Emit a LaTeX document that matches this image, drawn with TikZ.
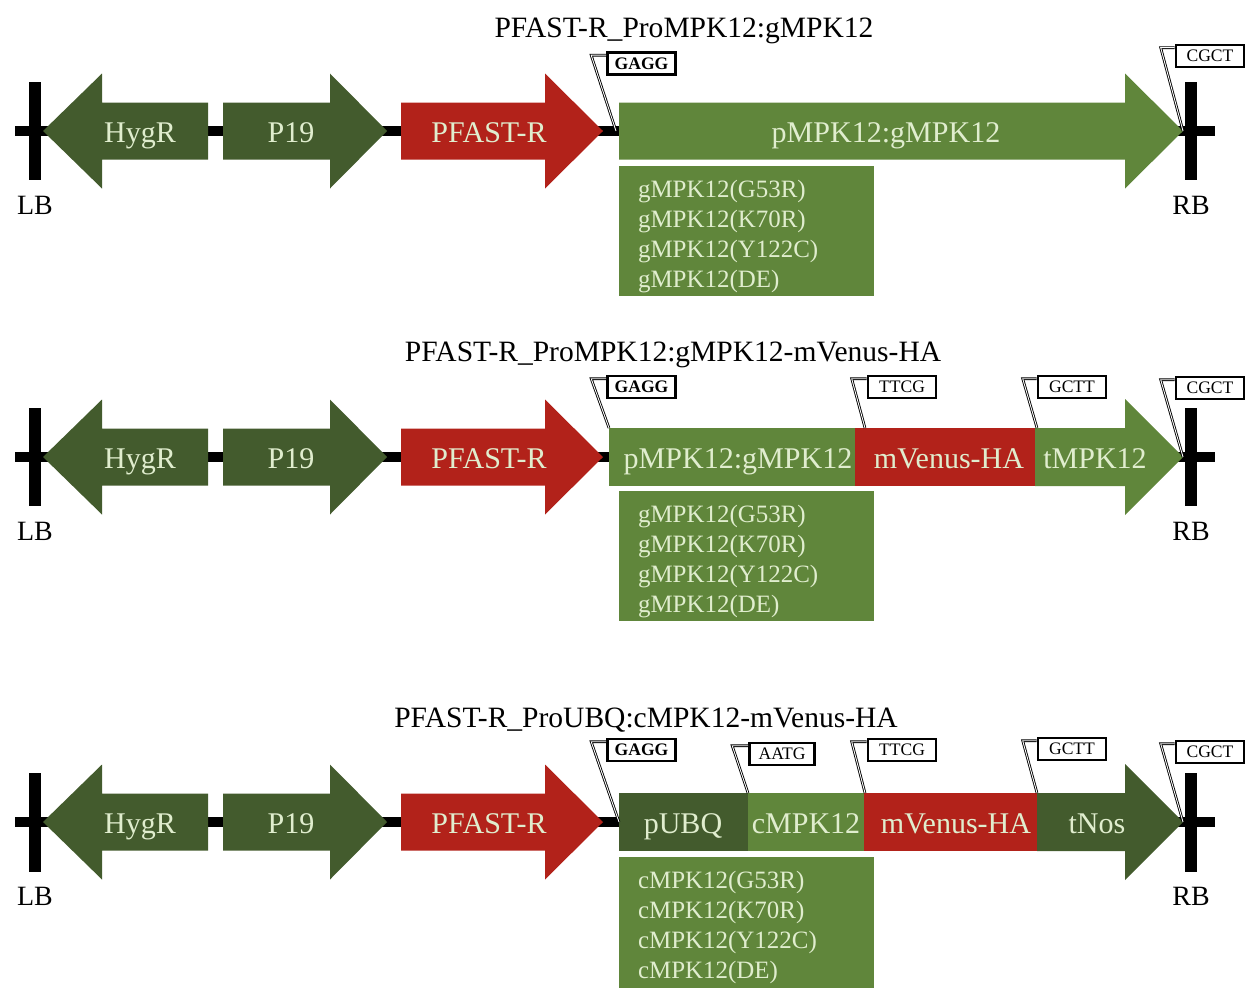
\documentclass[tikz,border=0pt]{standalone}
\usepackage{fontspec}
\setmainfont{Liberation Serif}
\usetikzlibrary{calc}

\definecolor{dkgreen}{RGB}{67,91,45}
\definecolor{ltgreen}{RGB}{96,134,59}
\definecolor{dnared}{RGB}{178,34,26}
\definecolor{paletxt}{RGB}{224,237,206}

\begin{document}
\begin{tikzpicture}[x=0.02cm, y=-0.02cm,
    blk/.style={text=paletxt, font=\fontsize{17.1}{20}\selectfont, inner sep=0pt, anchor=base},
    ttl/.style={font=\fontsize{16.8}{20}\selectfont, inner sep=0pt, anchor=base},
    site/.style={draw, line width=1.5pt, fill=white, minimum width=1.36cm, minimum height=0.44cm, inner sep=0pt, font=\fontsize{10}{11}\selectfont},
    tagline/.style={line width=0.5pt, double=white, double distance=0.5pt},
    mutbox/.style={fill=ltgreen, text=paletxt, minimum width=5.1cm, minimum height=2.62cm, text width=4.34cm, inner xsep=0.38cm, inner ysep=0pt, align=left, font=\fontsize{14.2}{17.1}\selectfont},
    bar/.style={fill=black, inner sep=0pt, minimum width=0.24cm, minimum height=1.98cm},
    bdr/.style={font=\fontsize{15.9}{18}\selectfont, inner sep=0pt, anchor=base}]

\useasboundingbox (0,0) rectangle (1257,987);

% parts shared by the three constructs
\foreach \r/\y in {1/131,2/457,3/822}{
  \begin{scope}[shift={(0,\y)}]
    \draw[line width=0.2cm] (15,0) -- (1215,0);
    \node[bar] (lbbar\r) at (35,0) {};
    \node[bar] (rbbar\r) at (1191,0) {};
    \node[bdr] (lb\r) at (35,83) {LB};
    \node[bdr] (rb\r) at (1191,83) {RB};
    \fill[dkgreen] (43,0) -- (102,-57.5) -- (102,-28.5) -- (208,-28.5) -- (208,28.5) -- (102,28.5) -- (102,57.5) -- cycle;
    \node[blk] (hygr\r) at (140,11) {HygR};
    \fill[dkgreen] (223,-28.5) -- (330,-28.5) -- (330,-57.5) -- (387,0) -- (330,57.5) -- (330,28.5) -- (223,28.5) -- cycle;
    \node[blk] (p19\r) at (291,11) {P19};
    \fill[dnared] (401,-28.5) -- (545,-28.5) -- (545,-57.5) -- (603,0) -- (545,57.5) -- (545,28.5) -- (401,28.5) -- cycle;
    \node[blk] (pfast\r) at (489,11) {PFAST-R};
    \coordinate (tip\r) at (1183,0);
  \end{scope}
}

% construct 1
\begin{scope}[shift={(0,131)}]
  \node[ttl] (title1) at (684,-94) {PFAST-R\_ProMPK12:gMPK12};
  \fill[ltgreen] (619,-28.5) -- (1125,-28.5) -- (1125,-57.5) -- (1183,0) -- (1125,57.5) -- (1125,28.5) -- (619,28.5) -- cycle;
  \node[blk] (gmpk1) at (886,11) {pMPK12:gMPK12};
  \node[mutbox] (mut1) at (746.5,100) {\rule{0pt}{16pt}gMPK12(G53R)\\gMPK12(K70R)\\gMPK12(Y122C)\\gMPK12(DE)};
  \node[site, font=\fontsize{10}{11}\selectfont\bfseries] (gagg1) at (641.5,-67.5) {GAGG};
  \node[site] (cgct1) at (1210,-75) {CGCT};
  \coordinate (j1) at (616,0);
  \draw[tagline] (j1) -- ($(gagg1.north west)+(-15,4)$) -- ($(gagg1.north west)+(0,4)$);
  \draw[tagline] (tip1) -- ($(cgct1.north west)+(-14,4)$) -- ($(cgct1.north west)+(0,4)$);
\end{scope}

% construct 2
\begin{scope}[shift={(0,457)}]
  \node[ttl] (title2) at (673,-96) {PFAST-R\_ProMPK12:gMPK12-mVenus-HA};
  \fill[ltgreen] (609,-29) rectangle (855,29);
  \fill[dnared] (855,-29) rectangle (1035,29);
  \fill[ltgreen] (1035,-29) -- (1125,-29) -- (1125,-58) -- (1183,0) -- (1125,58) -- (1125,29) -- (1035,29) -- cycle;
  \node[blk] (gmpk2) at (738,11) {pMPK12:gMPK12};
  \node[blk] (venus2) at (949,11) {mVenus-HA};
  \node[blk] (tmpk2) at (1095,11) {tMPK12};
  \node[mutbox] (mut2) at (746.5,99) {\rule{0pt}{16pt}gMPK12(G53R)\\gMPK12(K70R)\\gMPK12(Y122C)\\gMPK12(DE)};
  \node[site, font=\fontsize{10}{11}\selectfont\bfseries] (gagg2) at (641.5,-70) {GAGG};
  \node[site] (ttcg2) at (902,-70) {TTCG};
  \node[site] (gctt2) at (1072,-70) {GCTT};
  \node[site] (cgct2) at (1210,-69) {CGCT};
  \coordinate (j2a) at (609,-29);
  \coordinate (j2b) at (865,-29);
  \coordinate (j2c) at (1037,-29);
  \draw[tagline] (j2a) -- ($(gagg2.north west)+(-15,4)$) -- ($(gagg2.north west)+(0,4)$);
  \draw[tagline] (j2b) -- ($(ttcg2.north west)+(-15,4)$) -- ($(ttcg2.north west)+(0,4)$);
  \draw[tagline] (j2c) -- ($(gctt2.north west)+(-14,4)$) -- ($(gctt2.north west)+(0,4)$);
  \draw[tagline] (tip2) -- ($(cgct2.north west)+(-14,4)$) -- ($(cgct2.north west)+(0,4)$);
\end{scope}

% construct 3
\begin{scope}[shift={(0,822)}]
  \node[ttl] (title3) at (646,-95) {PFAST-R\_ProUBQ:cMPK12-mVenus-HA};
  \fill[dkgreen] (619,-29) rectangle (748,29);
  \fill[ltgreen] (748,-29) rectangle (864,29);
  \fill[dnared] (864,-29) rectangle (1037,29);
  \fill[dkgreen] (1037,-29) -- (1125,-29) -- (1125,-58) -- (1183,0) -- (1125,58) -- (1125,29) -- (1037,29) -- cycle;
  \node[blk] (pubq3) at (683,11) {pUBQ};
  \node[blk] (cmpk3) at (806,11) {cMPK12};
  \node[blk] (venus3) at (956,11) {mVenus-HA};
  \node[blk] (tnos3) at (1097,11) {tNos};
  \node[mutbox] (mut3) at (746.5,100) {\rule{0pt}{16pt}cMPK12(G53R)\\cMPK12(K70R)\\cMPK12(Y122C)\\cMPK12(DE)};
  \node[site, font=\fontsize{10}{11}\selectfont\bfseries] (gagg3) at (641.5,-72) {GAGG};
  \node[site, minimum width=1.3cm] (aatg3) at (782,-68) {AATG};
  \node[site] (ttcg3) at (902,-72) {TTCG};
  \node[site] (gctt3) at (1072,-73) {GCTT};
  \node[site] (cgct3) at (1210,-70) {CGCT};
  \coordinate (j3a) at (619,0);
  \coordinate (j3b) at (748,-29);
  \coordinate (j3c) at (865,-29);
  \coordinate (j3d) at (1037,-29);
  \draw[tagline] (j3a) -- ($(gagg3.north west)+(-15,4)$) -- ($(gagg3.north west)+(0,4)$);
  \draw[tagline] (j3b) -- ($(aatg3.north west)+(-16,4)$) -- ($(aatg3.north west)+(0,4)$);
  \draw[tagline] (j3c) -- ($(ttcg3.north west)+(-15,4)$) -- ($(ttcg3.north west)+(0,4)$);
  \draw[tagline] (j3d) -- ($(gctt3.north west)+(-14,4)$) -- ($(gctt3.north west)+(0,4)$);
  \draw[tagline] (tip3) -- ($(cgct3.north west)+(-14,4)$) -- ($(cgct3.north west)+(0,4)$);
\end{scope}
\end{tikzpicture}
\end{document}
